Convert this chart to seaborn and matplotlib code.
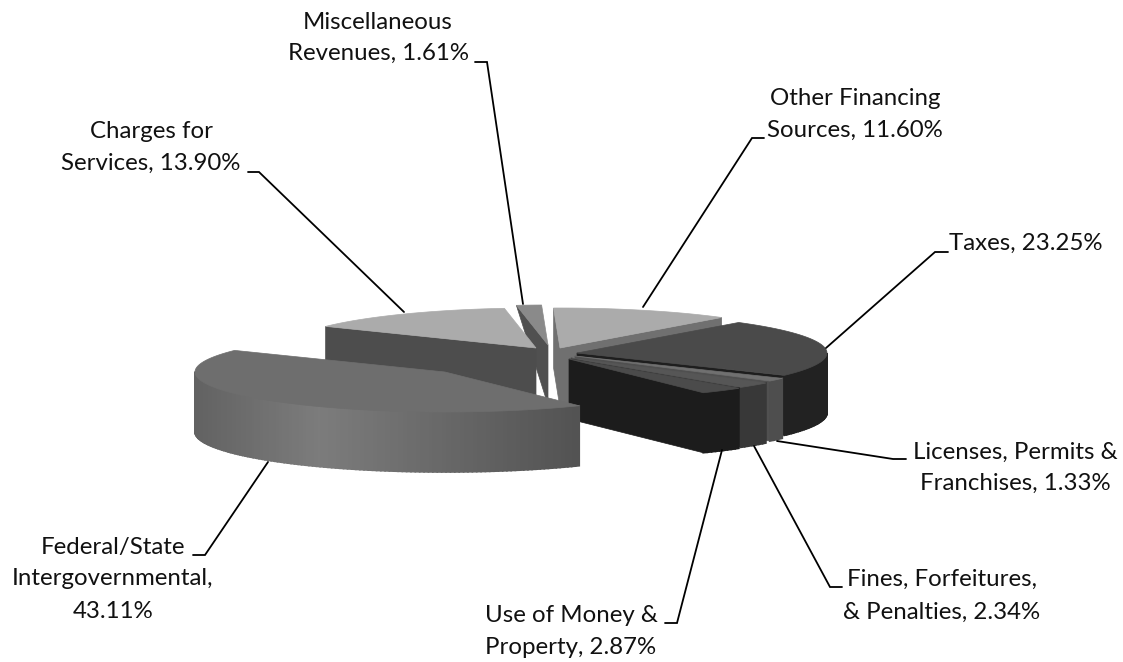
import numpy as np
import matplotlib.pyplot as plt
import seaborn as sns

#%%
# revenue shares, clockwise order
names = ['Charges for Services', 'Miscellaneous Revenues', 'Other Financing Sources', 'Taxes',
         'Licenses, Permits & Franchises', 'Fines, Forfeitures, & Penalties',
         'Use of Money & Property', 'Federal/State Intergovernmental']
shares = [13.90, 1.61, 11.60, 23.25, 1.33, 2.34, 2.87, 43.11]

# text of the labels, line by line
label_lines = [['Charges for', 'Services, 13.90%'],
               ['Miscellaneous', 'Revenues, 1.61%'],
               ['Other Financing', 'Sources, 11.60%'],
               ['Taxes, 23.25%'],
               ['Licenses, Permits &', 'Franchises, 1.33%'],
               ['Fines, Forfeitures,', '& Penalties, 2.34%'],
               ['Use of Money &', 'Property, 2.87%'],
               ['Federal/State', 'Intergovernmental,', '43.11%']]
label_x = [151, 378, 855, 1026, 1015, 942, 571, 113]
label_y = [[131, 163], [22, 53], [98, 130], [243], [452, 483], [579, 612], [615, 647], [547, 578, 611]]

# leader lines: start on the slice, elbow, end at the text
leader_x = [[404, 259, 248], [523, 487, 475], [643, 752, 764], [826, 935, 948],
            [777, 893, 906], [754, 830, 842], [722, 677, 665], [268, 205, 193]]
leader_y = [[312, 172, 172], [304, 62, 62], [307, 138, 138], [348, 252, 252],
            [441, 459, 459], [446, 587, 587], [450, 623, 623], [462, 555, 555]]

# look of the pie
first_angle = 302.7
rx, ry, depth = 250, 40, 60
center_x, center_y = 555, 352
explode_x = [-19, -7, 5, 22, 20, 16, 14, -110]
explode_y = [-4, -7, -4, 1, 4, 6, 7, 20]
face_rim_depth = [60, 0, 60, 60, 60, 60, 60, 60]  # the thin misc slice only shows a sliver
draw_order = [1, 0, 2, 3, 4, 5, 6, 7]
top_color = ['#ababab', '#8a8a8a', '#ababab', '#4a4a4a', '#707070', '#565656', '#4b4b4b', '#6e6e6e']
face_color = ['#4d4d4d', '#505050', '#707070', '#1e1e1e', '#505050', '#383838', '#1c1c1c', '#5a5a5a']
rim_left = ['#7a7a7a', '#505050', '#7a7a7a', '#222222', '#4e4e4e', '#383838', '#1c1c1c', '#626262']
rim_mid = ['#7a7a7a', '#505050', '#7a7a7a', '#222222', '#4e4e4e', '#383838', '#1c1c1c', '#7c7c7c']
rim_right = ['#7a7a7a', '#505050', '#7a7a7a', '#222222', '#4e4e4e', '#383838', '#1c1c1c', '#404040']

#%%
sns.set_theme(style='white')
plt.rcParams['font.family'] = ['Lato', 'DejaVu Sans']

fig, ax = plt.subplots(figsize=(11.23, 6.62), dpi=100)
ax.set_position([0, 0, 1, 1])
ax.set_xlim(0, 1123)
ax.set_ylim(662, 0)
ax.axis('off')

sweeps = np.array(shares) / np.sum(shares) * 360
starts = first_angle + np.concatenate([[0], np.cumsum(sweeps)[:-1]])


def rim_point(cx, cy, deg):
    rad = np.radians(deg)
    return cx + rx * np.sin(rad), cy - ry * np.cos(rad)


def to_gray(c):
    return int(c[1:3], 16)


# back slices first, the front ones paint over them
for i in draw_order:
    cx = center_x + explode_x[i]
    cy = center_y + explode_y[i]
    a1 = starts[i]
    a2 = a1 + sweeps[i]
    angles = np.linspace(a1, a2, max(int(sweeps[i]), 3))
    xs, ys = rim_point(cx, cy, angles)

    # cut faces that look to the viewer
    if np.sin(np.radians(a1)) < 0:
        px, py = rim_point(cx, cy, a1)
        ax.fill([cx, px, px, cx], [cy, py, py + face_rim_depth[i], cy + depth], color=face_color[i], lw=0.5)
    if np.sin(np.radians(a2)) > 0:
        px, py = rim_point(cx, cy, a2)
        ax.fill([cx, px, px, cx], [cy, py, py + face_rim_depth[i], cy + depth], color=face_color[i], lw=0.5)

    # outer wall, only the front half shows
    for j in range(len(angles) - 1):
        if np.cos(np.radians((angles[j] + angles[j + 1]) / 2)) > 0:
            continue
        u = np.sin(np.radians(angles[j]))
        g = np.interp(u, [-1, -0.5, 1],
                      [to_gray(rim_left[i]), to_gray(rim_mid[i]), to_gray(rim_right[i])]) / 255
        ax.fill([xs[j], xs[j + 1], xs[j + 1], xs[j]],
                [ys[j], ys[j + 1], ys[j + 1] + depth, ys[j] + depth],
                color=(g, g, g), lw=1.2)

    # top of the slice
    ax.fill(np.r_[cx, xs], np.r_[cy, ys], color=top_color[i], lw=0.5)

# leaders and labels
for i in range(len(names)):
    ax.plot(leader_x[i], leader_y[i], color='black', lw=1.3, solid_joinstyle='miter')
    for line, y in zip(label_lines[i], label_y[i]):
        ax.text(label_x[i], y + 7, line, fontsize=17.3, color='#111111', ha='center', va='baseline')

fig.savefig('out.png', dpi=100)
